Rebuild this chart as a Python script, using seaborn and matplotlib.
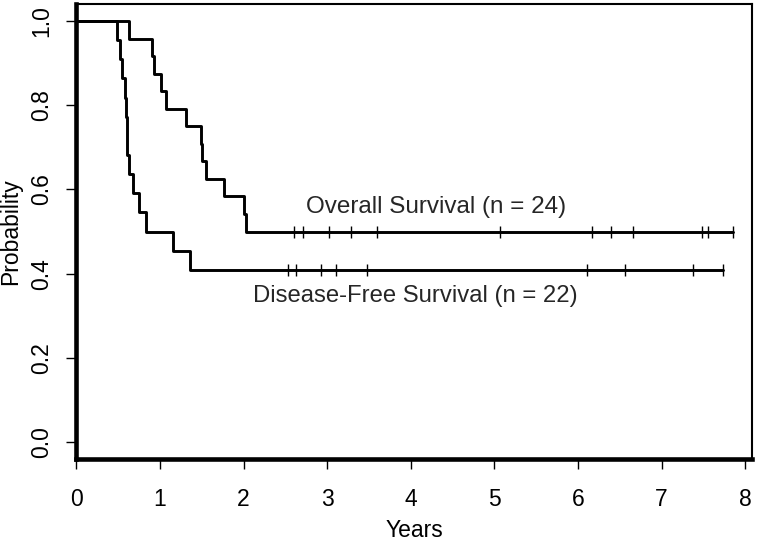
import matplotlib
matplotlib.use('Agg')
import matplotlib.pyplot as plt
import seaborn as sns

# event / censoring times (years)
os_events = [0.625, 0.907, 0.923, 1.014, 1.074, 1.315, 1.486, 1.502, 1.55, 1.768, 2.006, 2.026]
os_censored = [2.60, 2.71, 3.02, 3.28, 3.60, 5.07, 6.17, 6.40, 6.66, 7.48, 7.55, 7.85]
dfs_events = [0.486, 0.518, 0.545, 0.577, 0.598, 0.61, 0.61, 0.625, 0.673, 0.748, 0.833, 1.16, 1.363]
dfs_censored = [2.53, 2.63, 2.93, 3.10, 3.47, 6.11, 6.56, 7.38, 7.73]

x_ticks = [0, 1, 2, 3, 4, 5, 6, 7, 8]
y_ticks = [0.0, 0.2, 0.4, 0.6, 0.8, 1.0]
os_label = 'Overall Survival (n = 24)'
dfs_label = 'Disease-Free Survival (n = 22)'


def km(events, censored):
    # Kaplan-Meier step points
    xs, ys = [0.0], [1.0]
    s = 1.0
    for t in sorted(set(events)):
        at_risk = sum(e >= t for e in events) + sum(c >= t for c in censored)
        s *= 1 - events.count(t) / at_risk
        xs.append(t)
        ys.append(s)
    xs.append(max(events + censored))
    ys.append(s)
    return xs, ys


def surv_at(xs, ys, t):
    val = 1.0
    for x, y in zip(xs, ys):
        if x <= t:
            val = y
    return val


sns.set_theme(style='white')
plt.rcParams['font.family'] = ['Liberation Sans', 'DejaVu Sans']

fig = plt.figure(figsize=(7.57, 5.43), dpi=100)
ax = fig.add_axes([0.101, 0.155, 0.8923, 0.8372])

for ev, ce in [(os_events, os_censored), (dfs_events, dfs_censored)]:
    xs, ys = km(ev, ce)
    sns.lineplot(x=xs, y=ys, drawstyle='steps-post', estimator=None, sort=False,
                 color='black', linewidth=2.1, ax=ax)
    cy = [surv_at(xs, ys, c) for c in ce]
    ax.plot(ce, cy, linestyle='none', marker='|', markersize=8, markeredgewidth=1.0, color='black')

ax.text(2.74, 0.558, os_label, fontsize=17.5, ha='left', va='center')
ax.text(2.11, 0.347, dfs_label, fontsize=17.2, ha='left', va='center')

ax.set_xlim(0, 8.08)
ax.set_ylim(-0.04, 1.04)
ax.set_xticks(x_ticks)
ax.set_xticklabels([str(v) for v in x_ticks])
ax.set_yticks(y_ticks)
ax.set_yticklabels([f'{v:.1f}' for v in y_ticks], rotation=90, va='center')

ax.tick_params(axis='both', direction='out', length=7, width=1.0, color='black',
               labelsize=16.5, labelcolor='black', bottom=True, left=True)
ax.tick_params(axis='x', pad=14)
ax.tick_params(axis='y', pad=10)

for side in ['left', 'bottom']:
    ax.spines[side].set_linewidth(3.3)
    ax.spines[side].set_color('black')
for side in ['top', 'right']:
    ax.spines[side].set_linewidth(1.5)
    ax.spines[side].set_color('black')

ax.set_xlabel('Years', fontsize=16.5, color='black')
ax.set_ylabel('Probability', fontsize=16.5, color='black')
ax.xaxis.set_label_coords(0.501, -0.133)
ax.yaxis.set_label_coords(-0.081, 0.5)

fig.savefig('out.png', dpi=100, facecolor='white')
